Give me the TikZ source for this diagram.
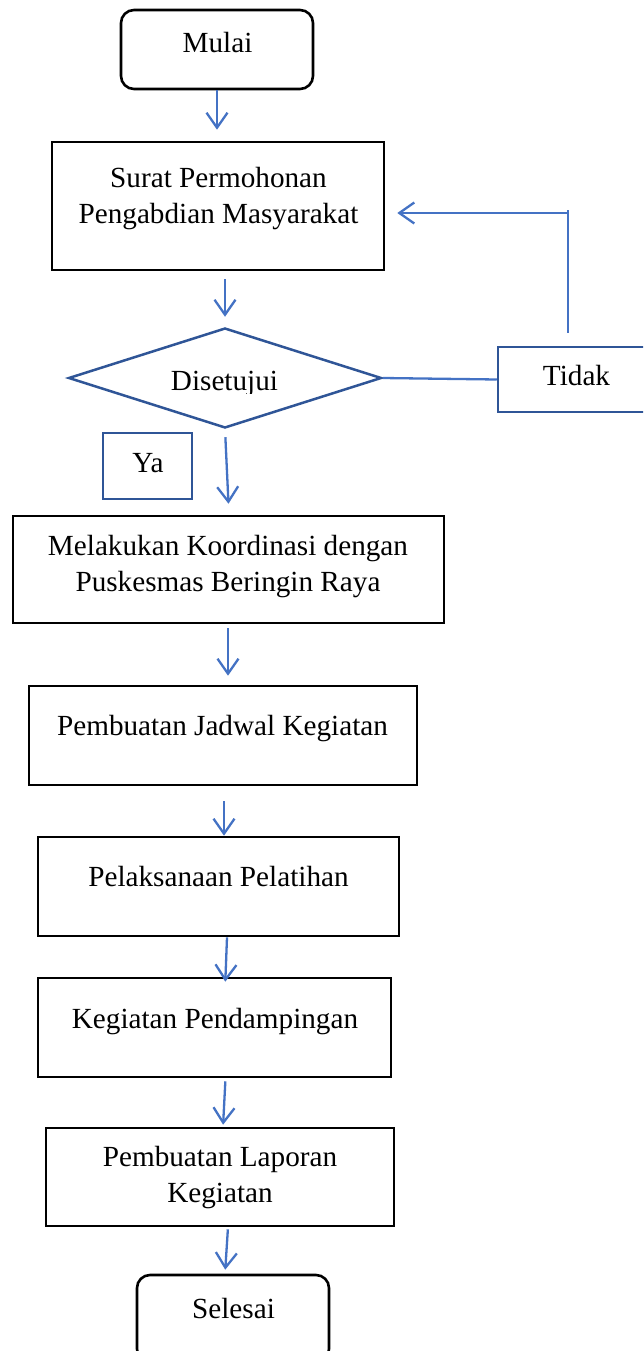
\documentclass[tikz,border=0pt]{standalone}
\usepackage{fontspec}
\setmainfont{Liberation Serif}
\usetikzlibrary{arrows.meta,shapes.geometric,fit}

\definecolor{flowblue}{HTML}{4472C4}
\definecolor{deepblue}{HTML}{2F5597}

\begin{document}
\begin{tikzpicture}[x=1pt,y=-1pt,
  txt/.style={inner sep=0pt, align=center, anchor=base,
    font=\fontsize{29.2}{36}\selectfont},
  procbox/.style={draw=black, line width=2.6pt, inner sep=0pt},
  termbox/.style={procbox, rounded corners=13pt},
  bluebox/.style={draw=deepblue, line width=2.5pt, inner sep=0pt},
  flowline/.style={draw=flowblue, line width=2.3pt},
  flowarrow/.style={flowline, -{Straight Barb[length=15pt,width=21pt,line width=2.3pt]}}
]
\useasboundingbox (0,0) rectangle (643,1351);
\clip (0,0) rectangle (643,1351);
\fill[white] (0,0) rectangle (643,1351);

% process boxes and terminals
\node[termbox, fit={(121,10)(313,89)}] (mulai) {};
\node[procbox, fit={(52,142)(384,270)}] (surat) {};
\node[bluebox, diamond, minimum width=313pt, minimum height=100pt] (dec) at (225,378) {};
\node[bluebox, fit={(498,347)(680,412)}] (tidak) {};
\node[bluebox, fit={(103,433)(192,499)}] (ya) {};
\node[procbox, fit={(13,516)(444,623)}] (koord) {};
\node[procbox, fit={(29,686)(417,785)}] (jadwal) {};
\node[procbox, fit={(38,837)(399,936)}] (latih) {};
\node[procbox, fit={(38,978)(391,1077)}] (damping) {};
\node[procbox, fit={(46,1128)(394,1226)}] (laporan) {};
\node[termbox, fit={(137,1275)(329,1362)}] (selesai) {};

% labels (a two-line label sits on the baseline of its last line)
\node[txt] at (217.5,53) {Mulai};
\node[txt] at (218.5,223) {Surat Permohonan\\Pengabdian Masyarakat};
\begin{scope}
  \clip (0,300) rectangle (643,393);
  \node[txt] at (224.5,390) {Disetujui};
\end{scope}
\node[txt] at (576.5,385) {Tidak};
\node[txt] at (148,472) {Ya};
\node[txt] at (228,591) {Melakukan Koordinasi dengan\\Puskesmas Beringin Raya};
\node[txt] at (222.5,735) {Pembuatan Jadwal Kegiatan};
\node[txt] at (218.5,886) {Pelaksanaan Pelatihan};
\node[txt] at (215,1028) {Kegiatan Pendampingan};
\node[txt] at (220,1202) {Pembuatan Laporan\\Kegiatan};
\node[txt] at (233.5,1318) {Selesai};

% main flow
\draw[flowarrow, shorten >=11pt] (mulai.south) -- (mulai.south |- surat.north);
\draw[flowarrow, shorten <=8pt, shorten >=10pt] (surat.south -| dec.north) -- (dec.north);
\draw[flowarrow, shorten <=8pt, shorten >=11pt] (dec.south) -- ([xshift=4pt]dec.south |- koord.north);
\draw[flowarrow, shorten <=4pt, shorten >=9pt] ([xshift=-0.5pt]koord.south) -- ([xshift=-0.5pt]koord.south |- jadwal.north);
\draw[flowarrow, shorten <=15pt] ([xshift=1pt]jadwal.south) -- ([xshift=1pt]jadwal.south |- latih.north);
\draw[flowarrow, shorten >=-5pt] ([xshift=8.5pt]latih.south) -- ([xshift=7pt]latih.south |- damping.north);
\draw[flowarrow, shorten <=3pt, shorten >=2pt] ([xshift=11pt]damping.south) -- ([xshift=8.5pt]damping.south |- laporan.north);
\draw[flowarrow, shorten <=2pt, shorten >=4pt] ([xshift=8pt]laporan.south) -- ([xshift=-8pt]selesai.north);

% rejection loop back to the request letter
\coordinate (ret) at (568,213);
\draw[flowline] (dec.east) -- (tidak.west);
\draw[flowline, shorten <=13pt] (tidak.north -| ret) -- ([yshift=3pt]ret);
\draw[flowarrow, shorten >=12pt] (ret) -- (ret -| surat.east);
\end{tikzpicture}
\end{document}
